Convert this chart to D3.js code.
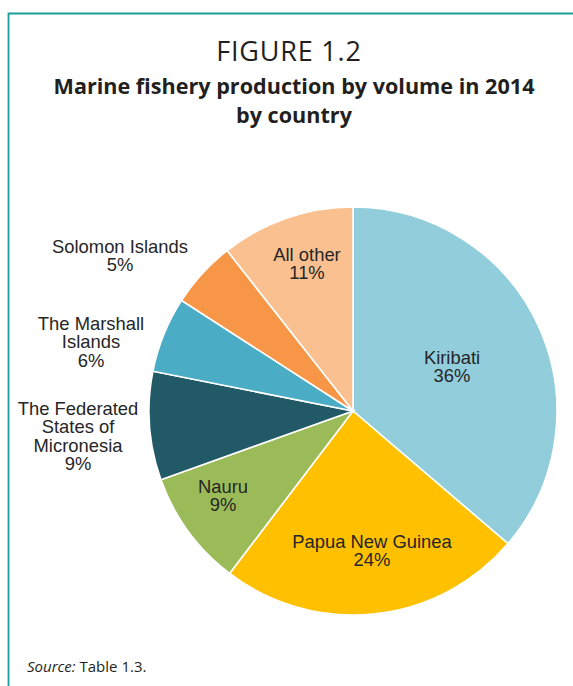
<html lang="en">
<head>
<meta charset="utf-8">
<title>Figure 1.2</title>
<script src="https://d3js.org/d3.v7.min.js"></script>
<style>
  body { margin: 0; background: #fff; }
</style>
</head>
<body>
<div id="chart"></div>
<script>

// data (shares of marine catch, 2014)
var countries = ["Kiribati", "Papua New Guinea", "Nauru",
  "The Federated States of Micronesia", "The Marshall Islands",
  "Solomon Islands", "All other"];
var shares = [36.3, 24.1, 9.2, 8.6, 6.0, 5.3, 10.6];
var labelLines = [
  ["Kiribati"],
  ["Papua New Guinea"],
  ["Nauru"],
  ["The Federated", "States of", "Micronesia"],
  ["The Marshall", "Islands"],
  ["Solomon Islands"],
  ["All other"]
];
var colors = ["#92cddc", "#ffc000", "#9bbb59", "#215967", "#4bacc6", "#f79646", "#fac090"];

var W = 573, H = 686;
var cx = 353, cy = 411, R = 204;

// where each label's first line sits, relative to the pie centre
var labelOffset = [
  [99, -47], [19, 137], [-130, 82], [-275, 4], [-262, -81], [-233, -158], [-46, -150]
];

var svg = d3.select("#chart").append("svg")
  .attr("width", W)
  .attr("height", H);

// teal frame (top and left)
svg.append("path")
  .attr("d", "M8.5," + H + "V13.5H" + W)
  .attr("fill", "none")
  .attr("stroke", "#1a9e98")
  .attr("stroke-width", 1.8);

// titles
svg.append("text")
  .attr("x", 289).attr("y", 61)
  .attr("text-anchor", "middle")
  .style("font-family", "'Open Sans'")
  .style("font-size", "27px")
  .style("letter-spacing", "0.8px")
  .attr("fill", "#231f20")
  .text("FIGURE 1.2");

var sub = svg.append("text")
  .attr("text-anchor", "middle")
  .style("font-family", "'Open Sans'")
  .style("font-weight", "bold")
  .style("font-size", "21.6px")
  .attr("fill", "#231f20");
sub.append("tspan").attr("x", 294).attr("y", 94).text("Marine fishery production by volume in 2014");
sub.append("tspan").attr("x", 294).attr("y", 123).text("by country");

var data = countries.map(function(c, i) {
  return {name: c, value: shares[i], lines: labelLines[i], color: colors[i], off: labelOffset[i]};
});

var total = d3.sum(shares);

var pie = d3.pie()
  .sort(null)
  .value(function(d) { return d.value; });

var arc = d3.arc().innerRadius(0).outerRadius(R);

var g = svg.append("g").attr("transform", "translate(" + cx + "," + cy + ")");

g.selectAll("path.slice")
  .data(pie(data))
  .enter().append("path")
    .attr("class", "slice")
    .attr("d", arc)
    .attr("fill", function(d) { return d.data.color; })
    .attr("stroke", "#fff")
    .attr("stroke-width", 1.6);

var lh = 18.3;
var labels = g.selectAll("text.lab")
  .data(pie(data))
  .enter().append("text")
    .attr("class", "lab")
    .attr("text-anchor", "middle")
    .style("font-family", "'Liberation Sans', Arial")
    .style("font-size", "18.4px")
    .attr("fill", "#262626");

labels.each(function(d) {
  var t = d3.select(this);
  var x = d.data.off[0], y = d.data.off[1];
  var lines = d.data.lines.concat([Math.round(d.data.value / total * 100) + "%"]);
  lines.forEach(function(s, k) {
    t.append("tspan").attr("x", x).attr("y", y + k * lh).text(s);
  });
});

// source note
var src = svg.append("text")
  .attr("x", 27).attr("y", 672)
  .style("font-family", "'Open Sans'")
  .style("font-size", "15px")
  .attr("fill", "#231f20");
src.append("tspan").style("font-style", "italic").text("Source:");
src.append("tspan").text(" Table 1.3.");

</script>
</body>
</html>
